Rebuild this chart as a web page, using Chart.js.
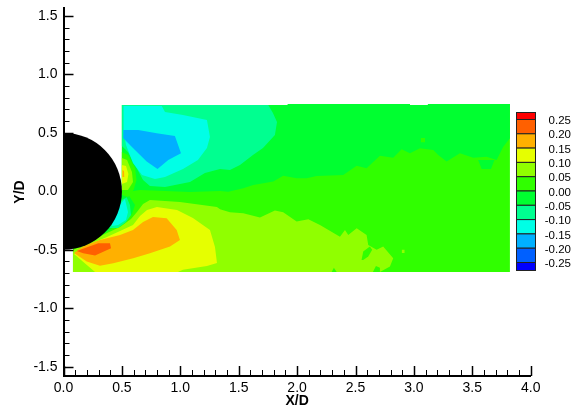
<!DOCTYPE html>
<html>
<head>
<meta charset="utf-8">
<script src="https://cdn.jsdelivr.net/npm/chart.js@4/dist/chart.umd.min.js"></script>
<style>
   html, body { margin: 0; padding: 0; background: #fff; }
   canvas { display: block; }
</style>
</head>
<body>
<canvas id="myChart" width="581" height="410"></canvas>
<script>
'use strict';

/***** DATA *****/
var xTickLabels = ['0.0', '0.5', '1.0', '1.5', '2.0', '2.5', '3.0', '3.5', '4.0'];
var yTickLabels = ['-1.5', '-1.0', '-0.5', '0.0', '0.5', '1.0', '1.5'];
var legendLabels = ['0.25', '0.20', '0.15', '0.10', '0.05', '0.00', '-0.05', '-0.10', '-0.15', '-0.20', '-0.25'];
var legendColors = ['#ff0000', '#ff6000', '#ffb000', '#e6ff00', '#90ff00', '#30ff00', '#00ff30', '#00ff90', '#00ffe6', '#00b0ff', '#0060ff', '#0000ff'];

// measured field outline, painted as the 0.00..0.05 band
var field = [[0.5,0.738],[1.92,0.738],[1.92,0.747],[2.966,0.747],[2.966,0.738],[3.12,0.738],[3.12,0.747],[3.822,0.747],[3.822,-0.69],[0.081,-0.69],[0.081,-0.45],[0.3,-0.25],[0.45,-0.05],[0.5,0]];

// positive side of the wake
var above005 = [[0.09,-0.501],[0.227,-0.426],[0.355,-0.365],[0.484,-0.305],[0.578,-0.236],[0.629,-0.177],[0.681,-0.108],[0.74,-0.074],[0.997,-0.091],[1.314,-0.134],[1.34,-0.153],[1.425,-0.179],[1.539,-0.188],[1.682,-0.225],[1.81,-0.165],[1.881,-0.179],[1.996,-0.259],[2.096,-0.239],[2.196,-0.288],[2.367,-0.388],[2.41,-0.33],[2.438,-0.373],[2.51,-0.316],[2.595,-0.373],[2.609,-0.459],[2.681,-0.501],[2.737,-0.473],[2.823,-0.572],[2.795,-0.644],[2.709,-0.69],[0.081,-0.69],[0.081,-0.5]];
var above010 = [[0.09,-0.536],[0.227,-0.45],[0.372,-0.39],[0.484,-0.34],[0.595,-0.288],[0.655,-0.211],[0.715,-0.159],[0.8,-0.134],[0.972,-0.159],[1.108,-0.228],[1.254,-0.33],[1.297,-0.476],[1.314,-0.613],[1.228,-0.638],[1.023,-0.672],[0.98,-0.69],[0.27,-0.69]];
var above015 = [[0.09,-0.527],[0.175,-0.467],[0.312,-0.416],[0.484,-0.373],[0.595,-0.33],[0.681,-0.262],[0.766,-0.219],[0.883,-0.23],[0.969,-0.33],[0.997,-0.416],[0.912,-0.473],[0.74,-0.53],[0.597,-0.572],[0.426,-0.615],[0.312,-0.636],[0.199,-0.601]];
var above020 = [[0.113,-0.51],[0.298,-0.444],[0.398,-0.444],[0.407,-0.487],[0.27,-0.55],[0.169,-0.53]];

// negative side of the wake
var below000 = [[0.5,0.738],[1.92,0.738],[1.92,0.747],[2.966,0.747],[2.966,0.738],[3.12,0.738],[3.12,0.747],[3.822,0.747],[3.822,0.454],[3.765,0.382],[3.708,0.268],[3.623,0.296],[3.508,0.288],[3.394,0.325],[3.28,0.254],[3.208,0.311],[3.166,0.354],[3.052,0.368],[2.966,0.325],[2.895,0.36],[2.823,0.288],[2.709,0.305],[2.595,0.197],[2.51,0.219],[2.395,0.14],[2.167,0.131],[2.082,0.112],[1.996,0.112],[1.881,0.134],[1.796,0.083],[1.625,0.054],[1.539,0.026],[1.411,-0.003],[1.34,0.003],[1.083,-0.006],[0.655,0.012],[0.54,-0.006],[0.612,-0.117],[0.586,-0.194],[0.552,-0.228],[0.484,-0.271],[0.381,-0.339],[0.287,-0.399],[0.227,-0.365],[0.441,-0.117],[0.5,0]];
var below005 = [[0.5,0.738],[1.753,0.738],[1.793,0.67],[1.828,0.593],[1.81,0.482],[1.708,0.371],[1.622,0.311],[1.511,0.225],[1.425,0.183],[1.34,0.191],[1.211,0.157],[1.083,0.08],[0.869,0.037],[0.74,0.046],[0.681,0.097],[0.612,0.225],[0.552,0.336],[0.5,0.388]];
var below010 = [[0.514,0.73],[0.841,0.73],[0.869,0.678],[1.023,0.653],[1.228,0.61],[1.254,0.465],[1.228,0.371],[1.151,0.268],[1.023,0.191],[0.869,0.123],[0.783,0.106],[0.672,0.14],[0.595,0.242],[0.535,0.396],[0.514,0.525]];
var below015 = [[0.512,0.525],[0.64,0.525],[0.798,0.496],[0.954,0.473],[1.006,0.325],[0.897,0.268],[0.805,0.191],[0.712,0.254],[0.597,0.368],[0.512,0.454]];

// small pockets next to the cylinder, upper side
var upperRing000 = [[0.5,0.336],[0.552,0.311],[0.612,0.2],[0.625,0.097],[0.6,0.012],[0.552,-0.048],[0.5,-0.031]];
var upperRing005 = [[0.5,0.285],[0.544,0.268],[0.586,0.165],[0.595,0.08],[0.552,0.012],[0.5,0.012]];
var upperRing010 = [[0.5,0.225],[0.535,0.217],[0.556,0.148],[0.544,0.08],[0.5,0.063]];
var upperRing015 = [[0.505,0.183],[0.518,0.174],[0.522,0.14],[0.518,0.122],[0.505,0.122]];

// small pockets next to the cylinder, lower side
var lowerRing005 = [[0.541,-0.05],[0.569,-0.117],[0.578,-0.202],[0.535,-0.262],[0.467,-0.313],[0.398,-0.313],[0.355,-0.313],[0.458,-0.159],[0.5,-0.074]];
var lowerRing010 = [[0.526,-0.065],[0.552,-0.177],[0.535,-0.245],[0.467,-0.288],[0.415,-0.296],[0.424,-0.177]];

// specks along the contour edges
var speck1 = [[2.552,-0.587],[2.566,-0.516],[2.623,-0.473],[2.643,-0.501],[2.609,-0.558],[2.566,-0.587]];
var speck2 = [[2.296,-0.69],[2.315,-0.655],[2.339,-0.69]];
var speck3 = [[2.649,-0.69],[2.675,-0.638],[2.709,-0.655],[2.709,-0.69]];
var speck4 = [[2.897,-0.5],[2.92,-0.5],[2.92,-0.527],[2.897,-0.527]];
var speck5 = [[3.06,0.455],[3.095,0.455],[3.095,0.42],[3.06,0.42]];
var speck6 = [[3.55,0.268],[3.69,0.268],[3.66,0.19],[3.58,0.19]];

var cylinderCentre = [{ x: 0, y: 0 }];
var cylinderRadius = 0.5;

// paint order: first entry is at the bottom
var contours = [
   [field, '#30ff00'],
   [above005, '#90ff00'],
   [speck1, '#30ff00'],
   [speck2, '#30ff00'],
   [speck3, '#30ff00'],
   [speck4, '#90ff00'],
   [above010, '#e6ff00'],
   [above015, '#ffb000'],
   [above020, '#ff6000'],
   [below000, '#00ff30'],
   [speck5, '#30ff00'],
   [speck6, '#00ff30'],
   [below005, '#00ff90'],
   [below010, '#00ffe6'],
   [below015, '#00b0ff'],
   [upperRing000, '#30ff00'],
   [upperRing005, '#90ff00'],
   [upperRing010, '#e6ff00'],
   [upperRing015, '#ffb000'],
   [lowerRing005, '#00ff90'],
   [lowerRing010, '#00ffe6']
];

/***** CHART *****/
var FONT = 'Liberation Sans';

function isLabelled (labels, value) {
   return labels.indexOf(value.toFixed(1)) !== -1;
}

var datasets = contours.map(function (c, i) {
   return {
      data: c[0].map(function (p) { return { x: p[0], y: p[1] }; }),
      showLine: true,
      fill: 'shape',
      backgroundColor: c[1],
      borderWidth: 0,
      pointRadius: 0,
      clip: 0,
      order: contours.length - i + 1
   };
});

// black cylinder on top, its radius comes from the x scale
datasets.push({
   data: cylinderCentre,
   showLine: false,
   clip: 0,
   order: 0,
   backgroundColor: '#000',
   borderWidth: 0,
   pointRadius: function (ctx) {
      var s = ctx.chart.scales.x;
      return s.getPixelForValue(cylinderRadius) - s.getPixelForValue(0);
   }
});

// ticks point into the plot, so they are stroked here from the scale's own ticks
var inwardTicks = {
   id: 'inwardTicks',
   afterDatasetsDraw: function (chart) {
      var c = chart.ctx, a = chart.chartArea;
      c.save();
      c.strokeStyle = '#000';
      chart.scales.x.ticks.forEach(function (t) {
         var major = isLabelled(xTickLabels, t.value);
         var px = Math.round(chart.scales.x.getPixelForValue(t.value)) + 0.5;
         c.lineWidth = major ? 1.5 : 1;
         c.beginPath();
         c.moveTo(px, a.bottom);
         c.lineTo(px, a.bottom - (major ? 10 : 6));
         c.stroke();
      });
      chart.scales.y.ticks.forEach(function (t) {
         var major = isLabelled(yTickLabels, t.value);
         var py = Math.round(chart.scales.y.getPixelForValue(t.value)) + 0.5;
         c.lineWidth = major ? 1.5 : 1;
         c.beginPath();
         c.moveTo(a.left, py);
         c.lineTo(a.left + (major ? 10 : 6), py);
         c.stroke();
      });
      c.restore();
   }
};

// contour level key on the right
var levelKey = {
   id: 'levelKey',
   afterDraw: function (chart) {
      var c = chart.ctx;
      var left = 516.5, width = 19, first = 119.5, step = 14.3;
      c.save();
      c.strokeStyle = '#222';
      c.lineWidth = 1;
      legendColors.forEach(function (col, i) {
         var top = i === 0 ? 112.5 : first + (i - 1) * step;
         var bottom = i === legendColors.length - 1 ? 270.5 : first + i * step;
         c.fillStyle = col;
         c.fillRect(left, top, width, bottom - top);
         c.strokeRect(left, top, width, bottom - top);
      });
      c.fillStyle = '#000';
      c.font = '11.5px "' + FONT + '"';
      c.textAlign = 'right';
      c.textBaseline = 'middle';
      legendLabels.forEach(function (label, i) {
         c.fillText(label, 571, 121 + i * step);
      });
      c.restore();
   }
};

function axisOptions (min, max, labels, title) {
   return {
      type: 'linear',
      min: min,
      max: max,
      grid: { drawOnChartArea: false, drawTicks: false },
      border: { color: '#000', width: 2 },
      ticks: {
         stepSize: 0.1,
         includeBounds: false,
         autoSkip: false,
         maxRotation: 0,
         color: '#000',
         padding: 6,
         font: { family: FONT, size: 14 },
         callback: function (value) {
            return isLabelled(labels, value) ? value.toFixed(1) : '';
         }
      },
      title: {
         display: true,
         text: title,
         color: '#000',
         padding: 0,
         font: { family: FONT, size: 14, weight: 'bold' }
      }
   };
}

var xAxis = axisOptions(0, 4, xTickLabels, 'X/D');
xAxis.ticks.padding = 4;
xAxis.afterFit = function (s) { s.height = 34; s.paddingLeft = 0; s.paddingRight = 0; };
var yAxis = axisOptions(-1.58, 1.568, yTickLabels, 'Y/D');
yAxis.afterFit = function (s) { s.width = 63.5 - 12; s.paddingTop = 0; s.paddingBottom = 0; };

new Chart(document.getElementById('myChart'), {
   type: 'scatter',
   data: { datasets: datasets },
   options: {
      responsive: false,
      animation: false,
      layout: { padding: { left: 12, right: 50.3, top: 8, bottom: 0 } },
      plugins: { legend: { display: false }, tooltip: { enabled: false } },
      scales: { x: xAxis, y: yAxis }
   },
   plugins: [inwardTicks, levelKey]
});
</script>
</body>
</html>
